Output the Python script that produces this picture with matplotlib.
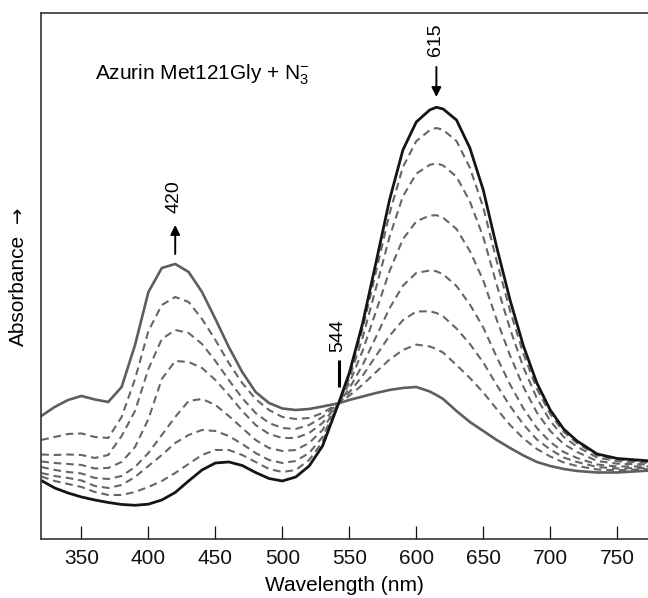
import matplotlib
matplotlib.use("Agg")
import matplotlib.pyplot as plt

plt.rcParams['font.family'] = ['Liberation Sans', 'DejaVu Sans']
plt.rcParams['mathtext.fontset'] = 'custom'
plt.rcParams['mathtext.rm'] = 'Liberation Sans'
plt.rcParams['mathtext.it'] = 'Liberation Sans:italic'
plt.rcParams['lines.scale_dashes'] = False

# Wavelength grid (nm)
wavelength = [320, 330, 340, 350, 360, 370, 380, 390, 400, 410, 420, 430, 440, 450,
              460, 470, 480, 490, 500, 510, 520, 530, 542, 550, 560, 570, 580, 590,
              600, 610, 615, 620, 630, 640, 650, 660, 670, 680, 690, 700, 710, 720,
              735, 750, 775]

# Absorbance (arbitrary units)
azurin_start = [58.5, 51, 46, 42, 39, 36.5, 34.5, 33.7, 34.8, 39, 46.5, 58, 69, 76, 77,
                73.5, 66.5, 60.5, 58, 62, 73, 93,
                135.7, 166, 216, 277, 339, 389, 417, 429, 431.7, 430, 419, 391, 349, 292,
                239, 193, 156, 129, 110, 98, 85, 80.5, 78]

azide_end = [123, 132, 139, 143, 139.5, 137, 152, 194, 247, 271, 275, 267, 247, 220, 192,
             167, 147, 136, 130.5, 129, 130, 132.5,
             135.7, 139, 142.5, 146, 149, 151, 152, 147.5, 144, 140, 128, 117, 108, 99,
             91, 83.5, 77, 73, 70, 68, 66.5, 66.5, 68.5]

titration_1 = [99, 102, 105, 105.5, 102, 101, 122, 160, 208, 234, 242, 237, 220, 199, 176,
               156, 140, 129, 122, 120, 121, 126,
               135.7, 143.3, 154.3, 167, 179.4, 189, 194.4, 192.5, 190, 186.4, 174, 161,
               146.5, 130, 114, 100.5, 90, 82.5, 76.5, 73, 69.5, 68.7, 70]
titration_2 = [84.5, 84, 84.5, 84, 81, 84, 103, 128, 170, 200, 209, 206, 195, 178, 159,
               141, 126, 116, 111, 110, 114, 122,
               135.7, 146.7, 163.4, 183.3, 203.2, 218.8, 227.5, 227.7, 226, 222.7, 210.5,
               195, 176.5, 154, 133, 114.5, 99.5, 89.5, 81.5, 77, 72, 70.5, 71.2]
titration_3 = [77.5, 76, 75, 74, 70.5, 71, 77, 92, 120, 160, 178, 177, 171, 159, 144,
               128, 114, 105, 101, 101, 106, 116,
               135.7, 150.6, 174.1, 202.3, 230.7, 253.3, 266, 268.5, 267.7, 264.7, 253,
               234.5, 211.5, 182, 154.5, 130.5, 111, 97, 87, 81, 74.5, 72.5, 72.6]
titration_4 = [72, 69, 67, 65.5, 61, 60, 63, 72, 86, 104, 122, 138, 140, 134, 123,
               111, 99, 91, 88, 89, 96, 109,
               135.7, 155.9, 188.4, 227.9, 267.8, 299.8, 317.6, 323.4, 323.8, 321.3, 310,
               288, 258.5, 219.5, 183.5, 152, 126.5, 108, 95, 87, 78, 75.3, 74.4]
titration_5 = [66, 63, 61, 58.5, 53, 51, 54, 62, 73, 84, 96, 104, 109, 108, 103,
               95, 86, 79, 76, 78, 86, 102,
               135.7, 160.7, 201.7, 251.5, 302, 342.6, 365.3, 374.1, 375.6, 373.5, 362.3,
               337.5, 302, 254.5, 210, 171.5, 140.8, 118, 102.2, 92.3, 81.5, 77.8, 76.1]
titration_6 = [62.5, 58, 55, 52, 47, 44, 44, 47, 52, 58, 66, 75, 84, 89, 89,
               84, 77, 70, 67, 69, 79, 97,
               135.7, 164.1, 210.7, 267.6, 325.3, 371.9, 397.9, 408.7, 411, 409.1, 398,
               371.3, 331.7, 278, 228.4, 185, 150.3, 125, 107.1, 95.9, 83.7, 79.5, 77.3]

x_ticks = [350, 400, 450, 500, 550, 600, 650, 700, 750]

fig = plt.figure(figsize=(6.48, 5.98), dpi=100)
ax = fig.add_axes([0.0637, 0.0987, 0.9363, 0.8796])

for series in [titration_1, titration_2, titration_3, titration_4, titration_5, titration_6]:
    ax.plot(wavelength, series, color='#666666', lw=1.5, linestyle=(0, (5.5, 3.5)))
ax.plot(wavelength, azide_end, color='#5e5e5e', lw=1.9, solid_joinstyle='round')
ax.plot(wavelength, azurin_start, color='#151515', lw=2.0, solid_joinstyle='round')

ax.set_xlim(320, 773)
ax.set_ylim(0, 526)
ax.set_xticks(x_ticks)
ax.set_yticks([])
ax.tick_params(axis='x', direction='in', length=9.5, width=0.9, pad=7,
               labelsize=15, colors='#111111')
for side in ['left', 'bottom', 'top']:
    ax.spines[side].set_color('#333333')
    ax.spines[side].set_linewidth(1.2)
ax.spines['right'].set_visible(False)

ax.set_xlabel('Wavelength (nm)', fontsize=15, labelpad=6)

# y-axis label: word plus a larger arrow
ax.text(-0.0384, 0.473, 'Absorbance', rotation=90, fontsize=15, ha='center', va='center',
        transform=ax.transAxes)
ax.text(-0.0384, 0.616, '\u2192', rotation=90, fontsize=14, ha='center', va='center',
        transform=ax.transAxes, family=['DejaVu Sans'])

ax.text(360, 464, r'Azurin Met121Gly + N$_3^{-}$', fontsize=15, ha='left', va='center')

# 615 annotation
ax.annotate('', xy=(615, 442), xytext=(615, 472),
            arrowprops=dict(arrowstyle='-|>', color='black', lw=1.4,
                            mutation_scale=14, shrinkA=0, shrinkB=0))
ax.text(614, 499, '615', rotation=90, fontsize=14, ha='center', va='center')

# 420 annotation
ax.annotate('', xy=(420, 314), xytext=(420, 285),
            arrowprops=dict(arrowstyle='-|>', color='black', lw=1.4,
                            mutation_scale=14, shrinkA=0, shrinkB=0))
ax.text(419, 342, '420', rotation=90, fontsize=14, ha='center', va='center')

# 544 isosbestic marker
ax.plot([542.3, 542.3], [152, 179], color='black', lw=2.2, solid_capstyle='butt')
ax.text(541.5, 203, '544', rotation=90, fontsize=14, ha='center', va='center')

fig.savefig('out.png', dpi=100)
